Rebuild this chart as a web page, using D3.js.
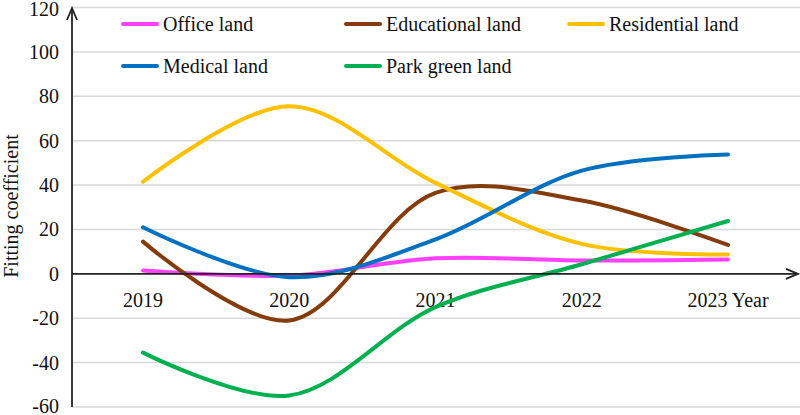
<!DOCTYPE html>
<html><head><meta charset="utf-8">
<script src="https://cdn.jsdelivr.net/npm/d3@7"></script>
<style>body{margin:0;background:#fff}svg{display:block}text{font-family:"Liberation Serif","Times New Roman",serif;fill:#111}</style>
</head><body><svg id="c" width="800" height="415"></svg>
<script>
const years = ["2019","2020","2021","2022","2023"];
const yTicks = [-60,-40,-20,0,20,40,60,80,100,120];
const seriesNames = ["Office land","Educational land","Residential land","Medical land","Park green land"];
const office = [1.5, -0.8, 7, 6, 6.5];
const educational = [14.5, -21, 36.5, 33, 13];
const residential = [41.5, 75.5, 41, 13.5, 8.7];
const medical = [21, -1.5, 15.5, 46.5, 53.8];
const parkGreen = [-35.5, -54.8, -15, 4.3, 23.8];
const colors = ["#FF40FF","#843C0C","#FFC000","#0070C0","#00B050"];
const allSeries = [office, educational, residential, medical, parkGreen];

const svg = d3.select("#c");
const x = d3.scalePoint().domain(years).range([143, 728]);
const y = d3.scaleLinear().domain([-60,120]).range([407, 7.5]);
const axisX = 72;

// gridlines
svg.append("g").selectAll("line").data(yTicks.filter(d=>d!==0)).join("line")
  .attr("x1", axisX).attr("x2", 800).attr("y1", d=>y(d)).attr("y2", d=>y(d))
  .attr("stroke", "#d9d9d9").attr("stroke-width", 1.5);

// y tick labels
svg.append("g").selectAll("text").data(yTicks).join("text")
  .attr("x", 59).attr("y", d=>y(d)).attr("dy", d=> d===120 ? "0.42em" : (d===-60 ? "0.3em" : "0.35em")).attr("text-anchor","end")
  .attr("font-size", 20).text(d=>d);

// x labels
svg.append("g").selectAll("text").data(years).join("text")
  .attr("x", d=>x(d)).attr("y", 300).attr("dy","0.35em").attr("text-anchor","middle")
  .attr("font-size", 20).text(d=> d==="2023" ? "2023 Year" : d);

// y label
svg.append("text").attr("transform","translate(11,206) rotate(-90)")
  .attr("text-anchor","middle").attr("dy","0.35em").attr("font-size",20).text("Fitting coefficient");

// lines
const line = d3.line().x((d,i)=>x(years[i])).y(d=>y(d)).curve(d3.curveCatmullRom.alpha(0.5));
svg.append("g").selectAll("path").data(allSeries).join("path")
  .attr("d", d=>line(d)).attr("fill","none").attr("stroke",(d,i)=>colors[i])
  .attr("stroke-width", 4).attr("stroke-linecap","round");

// axes
const y0 = y(0);
svg.append("line").attr("x1",axisX).attr("x2",797).attr("y1",y0).attr("y2",y0).attr("stroke","#222").attr("stroke-width",1.8);
svg.append("path").attr("d",`M${786},${y0-5} L${798},${y0} L${786},${y0+5}`).attr("fill","none").attr("stroke","#222").attr("stroke-width",1.8);
svg.append("line").attr("x1",axisX).attr("x2",axisX).attr("y1",407).attr("y2",9).attr("stroke","#222").attr("stroke-width",1.8);
svg.append("path").attr("d",`M${axisX-5},${20} L${axisX},${8} L${axisX+5},${20}`).attr("fill","none").attr("stroke","#222").attr("stroke-width",1.8);

// legend
const legendPos = [[122,24],[345,24],[568,24],[122,66],[345,66]];
const lg = svg.append("g").selectAll("g").data(seriesNames).join("g")
  .attr("transform",(d,i)=>`translate(${legendPos[i][0]},${legendPos[i][1]})`);
lg.append("line").attr("x1",1).attr("x2",35).attr("stroke",(d,i)=>colors[i]).attr("stroke-width",4).attr("stroke-linecap","round");
lg.append("text").attr("x",41).attr("dy","0.35em").attr("font-size",20).text(d=>d);
</script></body></html>
